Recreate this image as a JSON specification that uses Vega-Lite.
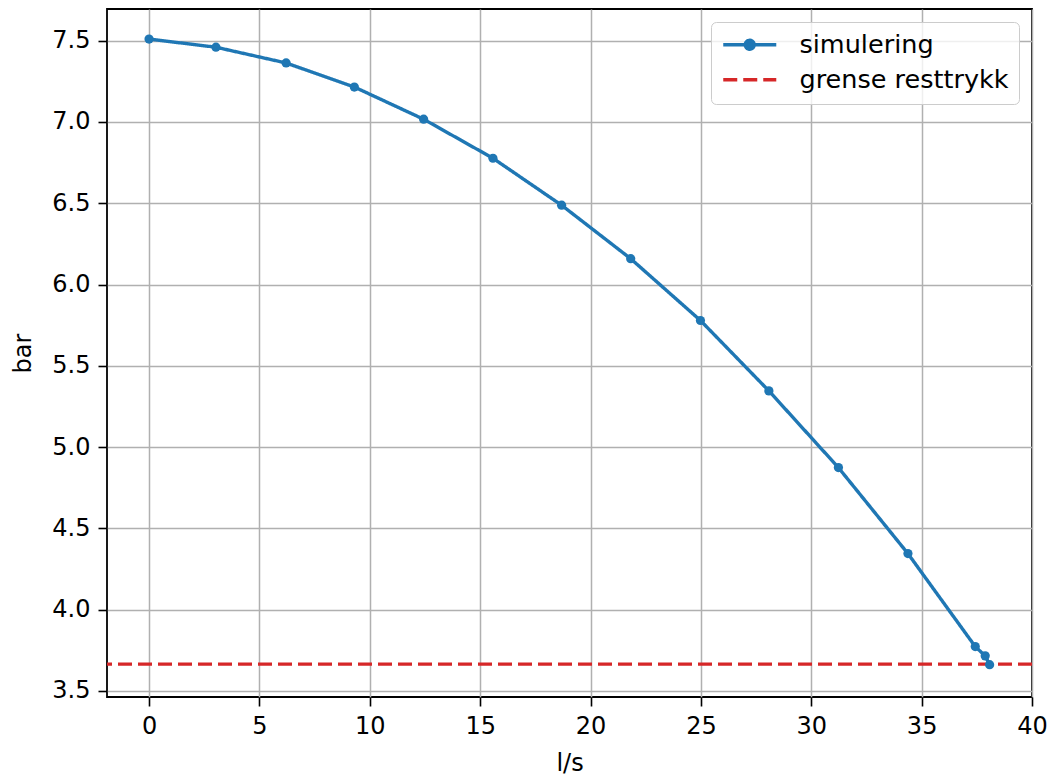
{
  "$schema": "https://vega.github.io/schema/vega-lite/v6.json",
  "width": 925,
  "height": 688,
  "autosize": "none",
  "padding": {"left": 107, "top": 9, "right": 17, "bottom": 78},
  "background": "white",
  "data": {
    "values": [
      {"q": 0.0, "p": 7.51, "series": "simulering"},
      {"q": 3.03, "p": 7.46, "series": "simulering"},
      {"q": 6.21, "p": 7.363, "series": "simulering"},
      {"q": 9.30, "p": 7.215, "series": "simulering"},
      {"q": 12.44, "p": 7.017, "series": "simulering"},
      {"q": 15.58, "p": 6.777, "series": "simulering"},
      {"q": 18.69, "p": 6.488, "series": "simulering"},
      {"q": 21.82, "p": 6.159, "series": "simulering"},
      {"q": 24.98, "p": 5.779, "series": "simulering"},
      {"q": 28.08, "p": 5.346, "series": "simulering"},
      {"q": 31.23, "p": 4.874, "series": "simulering"},
      {"q": 34.38, "p": 4.345, "series": "simulering"},
      {"q": 37.43, "p": 3.773, "series": "simulering"},
      {"q": 37.88, "p": 3.716, "series": "simulering"},
      {"q": 38.08, "p": 3.662, "series": "simulering"},
      {"p": 3.665, "series": "grense resttrykk"}
    ]
  },
  "layer": [
    {
      "transform": [{"filter": "datum.series === 'simulering'"}],
      "mark": {"type": "line", "strokeWidth": 3.4},
      "encoding": {
        "x": {
          "field": "q", "type": "quantitative", "title": "l/s",
          "scale": {"domain": [-1.905, 40], "nice": false, "zero": false},
          "axis": {"values": [0, 5, 10, 15, 20, 25, 30, 35, 40], "format": "d"}
        },
        "y": {"field": "p", "type": "quantitative"},
        "color": {"field": "series", "type": "nominal"},
        "strokeDash": {"field": "series", "type": "nominal"}
      }
    },
    {
      "transform": [{"filter": "datum.series === 'grense resttrykk'"}],
      "mark": {"type": "rule", "strokeWidth": 3.4},
      "encoding": {
        "y": {"field": "p", "type": "quantitative"},
        "color": {"field": "series", "type": "nominal"},
        "strokeDash": {"field": "series", "type": "nominal"}
      }
    },
    {
      "transform": [{"filter": "datum.series === 'simulering'"}],
      "mark": {"type": "point", "filled": true, "size": 85, "opacity": 1},
      "encoding": {
        "x": {"field": "q", "type": "quantitative"},
        "y": {"field": "p", "type": "quantitative"},
        "color": {"field": "series", "type": "nominal"}
      }
    }
  ],
  "encoding": {
    "y": {
      "field": "p", "type": "quantitative", "title": "bar",
      "scale": {"domain": [3.463, 7.695], "nice": false, "zero": false},
      "axis": {"values": [3.5, 4.0, 4.5, 5.0, 5.5, 6.0, 6.5, 7.0, 7.5], "format": ".1f"}
    },
    "color": {
      "field": "series", "type": "nominal", "title": null,
      "scale": {"domain": ["simulering", "grense resttrykk"], "range": ["#1f77b4", "#d62728"]},
      "legend": {
        "orient": "top-right",
        "offset": 13,
        "symbolType": "stroke",
        "symbolSize": 441,
        "symbolStrokeWidth": 3.3,
        "labelFontSize": 25.5,
        "labelFont": "DejaVu Sans",
        "labelColor": "#000000",
        "labelOffset": 53,
        "rowPadding": 8,
        "padding": 10,
        "fillColor": "rgba(255,255,255,0.8)",
        "strokeColor": "#cccccc",
        "cornerRadius": 5,
        "labelLimit": 400,
        "encode": {
          "symbols": {
            "update": {
              "shape": {"signal": "datum.value === 'simulering' ? 'M-1,0L1.09,0M4.05,0L1.95,0M1.95,0A0.43,0.43,0,1,1,1.09,0A0.43,0.43,0,1,1,1.95,0Z' : 'M-1,0L4.05,0'"},
              "fill": {"signal": "datum.value === 'simulering' ? '#1f77b4' : 'transparent'"},
              "fillOpacity": {"value": 1},
              "opacity": {"value": 1}
            }
          }
        }
      }
    },
    "strokeDash": {
      "field": "series", "type": "nominal", "title": null,
      "scale": {"domain": ["simulering", "grense resttrykk"], "range": [[1, 0], [14, 6]]}
    }
  },
  "config": {
    "view": {"stroke": "#000000", "strokeWidth": 1.8},
    "axis": {
      "domain": false,
      "grid": true,
      "gridColor": "#b0b0b0",
      "gridWidth": 1.5,
      "ticks": true,
      "tickColor": "#000000",
      "tickWidth": 1.6,
      "tickSize": 9,
      "labelFont": "DejaVu Sans",
      "labelFontSize": 24,
      "labelColor": "#000000",
      "labelPadding": 8,
      "titleFont": "DejaVu Sans",
      "titleFontSize": 24,
      "titleFontWeight": "normal",
      "titleColor": "#000000"
    },
    "axisX": {"titlePadding": 13, "labelFlush": false},
    "axisY": {"titlePadding": 16, "labelFlush": false}
  }
}
